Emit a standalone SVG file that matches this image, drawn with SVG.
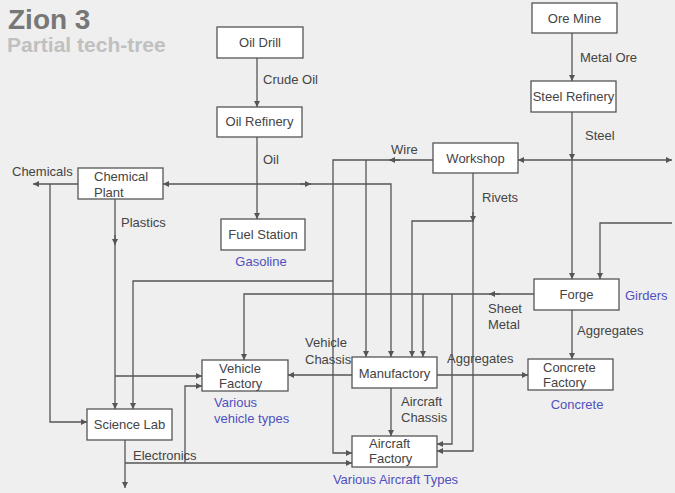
<svg xmlns="http://www.w3.org/2000/svg" width="675" height="493" viewBox="0 0 675 493">
<style>
.bg{fill:#efefef}
.box{fill:#ffffff;stroke:#555555;stroke-width:1.3}
.t{font-family:"Liberation Sans",Arial,sans-serif;font-size:13px;fill:#444444}
.c{text-anchor:middle}
.b{fill:#5050c0}
.ln{fill:none;stroke:#555555;stroke-width:1.3}
.ar{fill:none;stroke:#555555;stroke-width:1.3;marker-end:url(#ah)}
.title{font-family:"Liberation Sans",Arial,sans-serif;font-weight:bold}
</style>
<defs>
<marker id="ah" markerUnits="userSpaceOnUse" markerWidth="7" markerHeight="6" refX="6" refY="3" orient="auto">
<path d="M0,0 L6,3 L0,6 z" fill="#555555"/>
</marker>
</defs>
<rect class="bg" x="0" y="0" width="675" height="493"/>
<text class="title" x="8" y="29" font-size="28" fill="#777777">Zion 3</text>
<text class="title" x="7" y="52" font-size="21" fill="#c0c0c0">Partial tech-tree</text>

<g id="connectors">
<path class="ar" d="M257 58 V107"/>
<path class="ar" d="M257 137 V219"/>
<path class="ar" d="M257 184 H163"/>
<path class="ar" d="M257 184 H391 V357"/>
<path class="ar" d="M300 184 H311"/>
<path class="ar" d="M78 184 H33"/>
<path class="ar" d="M50 184 V422 H87"/>
<path class="ar" d="M115 199 V409"/>
<path class="ar" d="M115 235 V245"/>
<path class="ar" d="M115 376 H202"/>
<path class="ar" d="M572 33 V81"/>
<path class="ar" d="M572 112 V160"/>
<path class="ar" d="M572 160 V279"/>
<path class="ar" d="M572 160 H518"/>
<path class="ar" d="M572 160 H672"/>
<path class="ar" d="M672 223 H600 V279"/>
<path class="ar" d="M433 160 H333 V453 H352"/>
<path class="ar" d="M400 160 H389"/>
<path class="ar" d="M366 160 V357"/>
<path class="ar" d="M333 281 H133 V409"/>
<path class="ar" d="M473 173 V451 H437"/>
<path class="ar" d="M473 212 V222"/>
<path class="ar" d="M473 221 H412 V357"/>
<path class="ar" d="M534 294 H244 V360"/>
<path class="ar" d="M500 294 H489"/>
<path class="ar" d="M423 294 V357"/>
<path class="ar" d="M452 294 V444 H437"/>
<path class="ar" d="M572 310 V359"/>
<path class="ar" d="M437 375 H528"/>
<path class="ar" d="M352 375 H288"/>
<path class="ar" d="M391 388 V436"/>
<path class="ar" d="M125 440 V488"/>
<path class="ar" d="M125 463 H352"/>
<path class="ar" d="M185 463 V386 H202"/>
</g>

<g id="labels">
<text class="t" x="263" y="84">Crude Oil</text>
<text class="t" x="263" y="164">Oil</text>
<text class="t" x="580" y="62">Metal Ore</text>
<text class="t" x="585" y="140">Steel</text>
<text class="t" x="391" y="154">Wire</text>
<text class="t" x="482" y="202">Rivets</text>
<text class="t" x="12" y="176">Chemicals</text>
<text class="t" x="121" y="227">Plastics</text>
<text class="t" x="488" y="313">Sheet</text>
<text class="t" x="488" y="329">Metal</text>
<text class="t" x="577" y="335">Aggregates</text>
<text class="t" x="305" y="347">Vehicle</text>
<text class="t" x="305" y="364">Chassis</text>
<text class="t" x="447" y="363">Aggregates</text>
<text class="t" x="401" y="406">Aircraft</text>
<text class="t" x="401" y="422">Chassis</text>
<text class="t" x="133" y="460">Electronics</text>
</g>

<g id="oil-drill">
<rect class="box" x="217" y="27" width="86" height="31"/>
<text class="t c" x="260" y="47">Oil Drill</text>
</g>
<g id="oil-refinery">
<rect class="box" x="217" y="107" width="85" height="30"/>
<text class="t c" x="259.5" y="126">Oil Refinery</text>
</g>
<g id="fuel-station">
<rect class="box" x="221" y="219" width="84" height="31"/>
<text class="t c" x="263" y="239">Fuel Station</text>
<text class="t c b" x="261" y="266">Gasoline</text>
</g>
<g id="ore-mine">
<rect class="box" x="532" y="3" width="85" height="30"/>
<text class="t c" x="574.5" y="23">Ore Mine</text>
</g>
<g id="steel-refinery">
<rect class="box" x="531" y="81" width="85" height="31"/>
<text class="t c" x="573.5" y="101">Steel Refinery</text>
</g>
<g id="workshop">
<rect class="box" x="433" y="143" width="85" height="30"/>
<text class="t c" x="475.5" y="163">Workshop</text>
</g>
<g id="chemical-plant">
<rect class="box" x="78" y="168" width="85" height="31"/>
<text class="t" x="94" y="181">Chemical</text>
<text class="t" x="94" y="197">Plant</text>
</g>
<g id="forge">
<rect class="box" x="534" y="279" width="85" height="31"/>
<text class="t c" x="576.5" y="299">Forge</text>
<text class="t b" x="625" y="300">Girders</text>
</g>
<g id="vehicle-factory">
<rect class="box" x="202" y="360" width="86" height="31"/>
<text class="t" x="219" y="373">Vehicle</text>
<text class="t" x="219" y="388">Factory</text>
<text class="t b" x="214" y="407">Various</text>
<text class="t b" x="214" y="423">vehicle types</text>
</g>
<g id="manufactory">
<rect class="box" x="352" y="357" width="85" height="31"/>
<text class="t c" x="394.5" y="378">Manufactory</text>
</g>
<g id="concrete-factory">
<rect class="box" x="528" y="359" width="85" height="31"/>
<text class="t" x="543" y="372">Concrete</text>
<text class="t" x="543" y="387">Factory</text>
<text class="t c b" x="577" y="409">Concrete</text>
</g>
<g id="science-lab">
<rect class="box" x="87" y="409" width="85" height="31"/>
<text class="t c" x="129.5" y="429">Science Lab</text>
</g>
<g id="aircraft-factory">
<rect class="box" x="352" y="436" width="85" height="31"/>
<text class="t" x="369" y="448">Aircraft</text>
<text class="t" x="369" y="463">Factory</text>
<text class="t c b" x="395.5" y="484">Various Aircraft Types</text>
</g>
</svg>
